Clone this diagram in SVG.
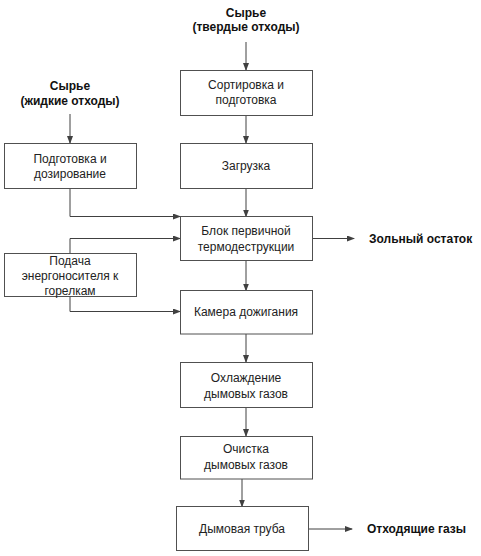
<svg xmlns="http://www.w3.org/2000/svg" width="481" height="556" viewBox="0 0 481 556">
<defs>
<marker id="ah" markerWidth="8" markerHeight="6" refX="7" refY="3" orient="auto" markerUnits="userSpaceOnUse">
<path d="M0,0 L8,3 L0,6 Z" fill="#404040"/>
</marker>
<style>
.box{fill:#fff;stroke:#505050;stroke-width:1}
.t{font-family:"Liberation Sans",Arial,sans-serif;font-size:12px;fill:#222;text-anchor:middle}
.b{font-family:"Liberation Sans",Arial,sans-serif;font-size:12px;font-weight:bold;fill:#111}
.c{fill:none;stroke:#404040;stroke-width:1;marker-end:url(#ah)}
</style>
</defs>
<rect width="481" height="556" fill="#fff"/>
<g id="connectors">
<path class="c" d="M246,42 V70"/>
<path class="c" d="M70,114 V143"/>
<path class="c" d="M246,115 V143"/>
<path class="c" d="M246,188 V216.5"/>
<path class="c" d="M70,188 V216.5 H180"/>
<path class="c" d="M70,253 V238.5 H180"/>
<path class="c" d="M312.5,238.5 H354"/>
<path class="c" d="M70,296.5 V311.5 H180"/>
<path class="c" d="M246,260.5 V290.5"/>
<path class="c" d="M246,334 V362"/>
<path class="c" d="M246,407 V436"/>
<path class="c" d="M242,479 V506.5"/>
<path class="c" d="M308.5,529 H352"/>
</g>
<g id="src-solid">
<text class="b" x="246" y="17" text-anchor="middle">Сырье</text>
<text class="b" x="246" y="31" text-anchor="middle">(твердые отходы)</text>
</g>
<g id="src-liquid">
<text class="b" x="70" y="90" text-anchor="middle">Сырье</text>
<text class="b" x="70" y="105" text-anchor="middle">(жидкие отходы)</text>
</g>
<g id="sort">
<rect class="box" x="180.5" y="70.5" width="132" height="45"/>
<text class="t" x="246" y="89">Сортировка и</text>
<text class="t" x="246" y="104">подготовка</text>
</g>
<g id="prep">
<rect class="box" x="4.5" y="143.5" width="132" height="45"/>
<text class="t" x="70" y="162.5">Подготовка и</text>
<text class="t" x="70" y="177.5">дозирование</text>
</g>
<g id="load">
<rect class="box" x="180.5" y="143.5" width="132" height="45"/>
<text class="t" x="246" y="170">Загрузка</text>
</g>
<g id="thermo">
<rect class="box" x="180.5" y="216.5" width="132" height="44"/>
<text class="t" x="246" y="235">Блок первичной</text>
<text class="t" x="246" y="251">термодеструкции</text>
</g>
<g id="ash">
<text class="b" x="369" y="242.5">Зольный остаток</text>
</g>
<g id="energy">
<rect class="box" x="4.5" y="253.5" width="132" height="43"/>
<text class="t" x="70" y="264.5">Подача</text>
<text class="t" x="70" y="280">энергоносителя к</text>
<text class="t" x="70" y="294.5">горелкам</text>
</g>
<g id="afterburn">
<rect class="box" x="180.5" y="290.5" width="132" height="43.5"/>
<text class="t" x="246" y="316">Камера дожигания</text>
</g>
<g id="cool">
<rect class="box" x="180.5" y="362.5" width="132" height="45"/>
<text class="t" x="246" y="381.5">Охлаждение</text>
<text class="t" x="246" y="397.5">дымовых газов</text>
</g>
<g id="clean">
<rect class="box" x="180.5" y="436.5" width="132" height="42.5"/>
<text class="t" x="246" y="453">Очистка</text>
<text class="t" x="246" y="469">дымовых газов</text>
</g>
<g id="stack">
<rect class="box" x="176.5" y="506.5" width="132" height="44"/>
<text class="t" x="242" y="533">Дымовая труба</text>
</g>
<g id="flue">
<text class="b" x="367" y="533">Отходящие газы</text>
</g>
</svg>
